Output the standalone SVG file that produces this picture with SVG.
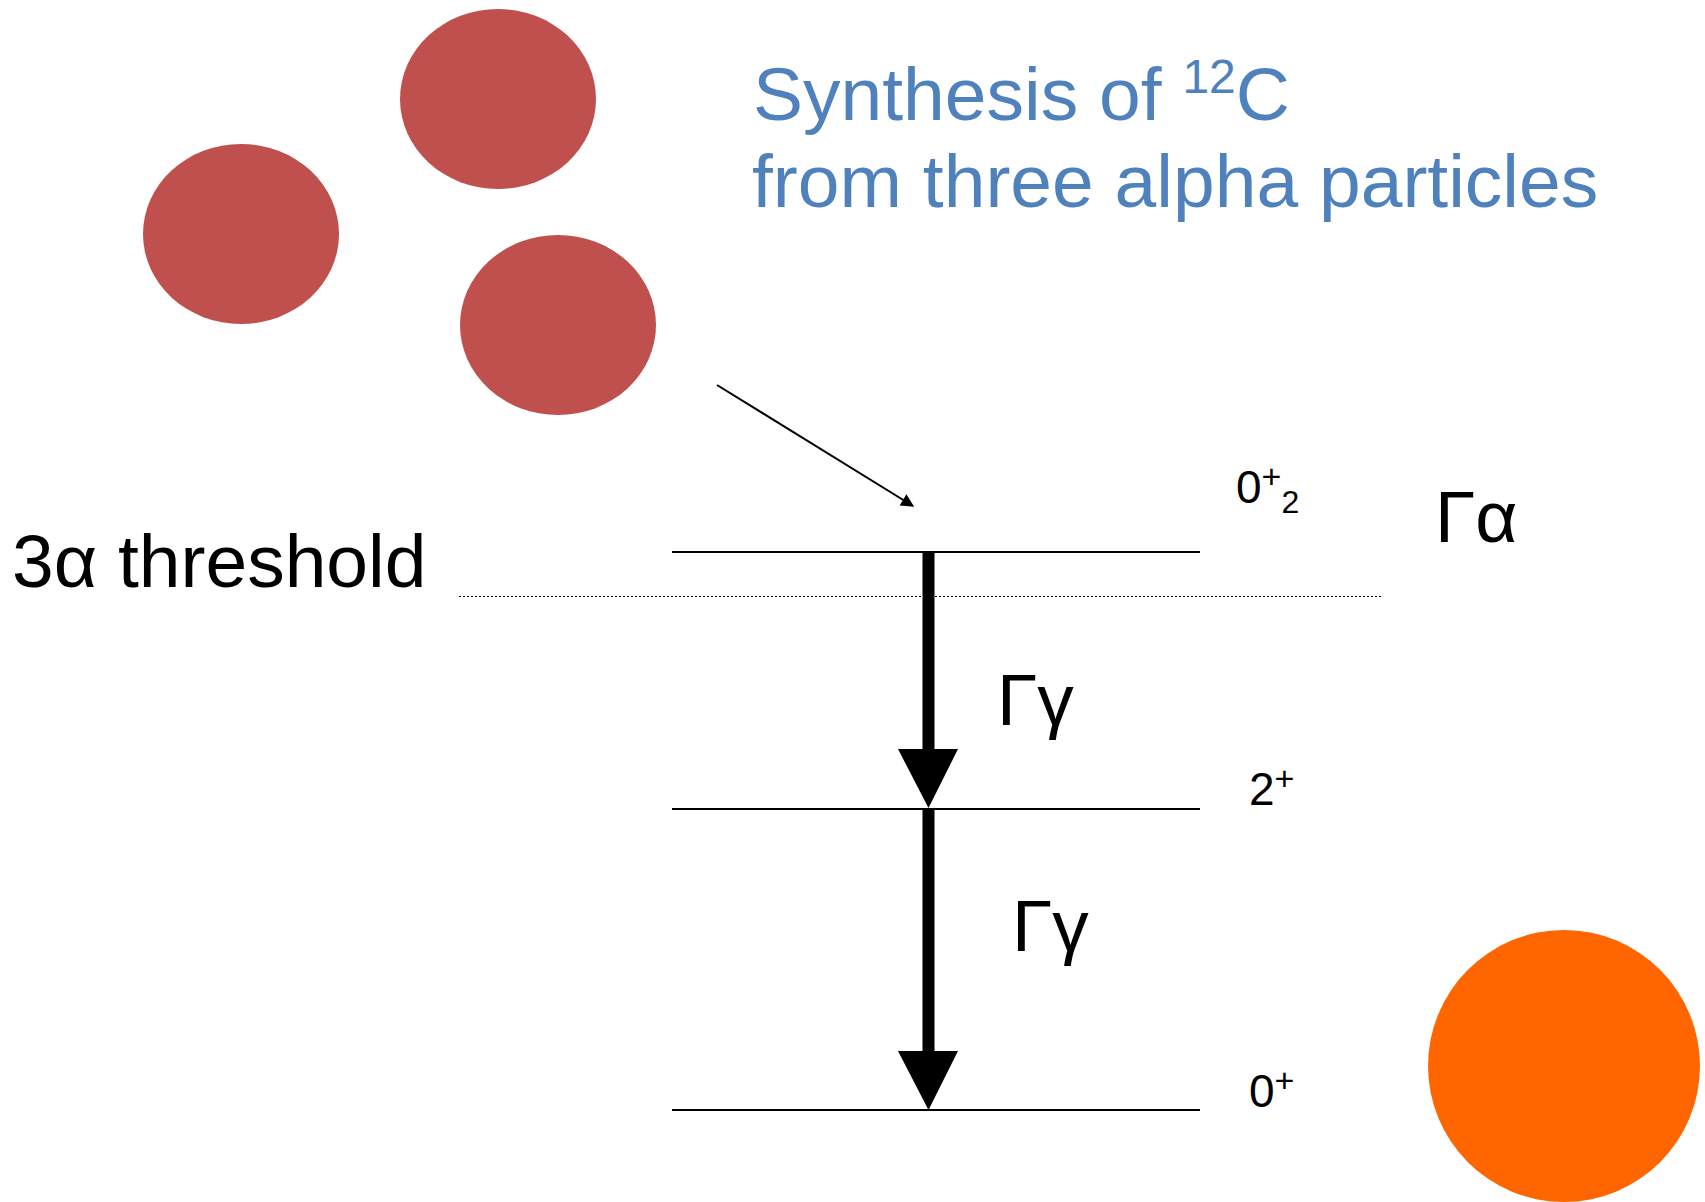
<svg xmlns="http://www.w3.org/2000/svg" width="1705" height="1202" viewBox="0 0 1705 1202">
<defs>
<style>
.t{font-family:"Liberation Sans",Arial,sans-serif;fill:#000}
.title{font-family:"Liberation Sans",Arial,sans-serif;fill:#4F81BD;font-size:75px}
.alpha{fill:#C0504D}
.lvl{stroke:#000;stroke-width:2;fill:none}
.thick{stroke:#000;stroke-width:12;fill:none}
</style>
<marker id="thin" viewBox="0 0 10 10" refX="9" refY="5" markerWidth="15" markerHeight="13" orient="auto" markerUnits="userSpaceOnUse">
<path d="M0,0 L10,5 L0,10 z" fill="#000"/>
</marker>
</defs>
<rect width="1705" height="1202" fill="#fff"/>
<g id="alpha1"><ellipse class="alpha" cx="498" cy="99" rx="98" ry="90"/></g>
<g id="alpha2"><ellipse class="alpha" cx="241" cy="234" rx="98" ry="90"/></g>
<g id="alpha3"><ellipse class="alpha" cx="558" cy="325" rx="98" ry="90"/></g>
<g id="carbon"><circle cx="1564" cy="1066" r="136" fill="#FF6600"/></g>
<g id="title">
<text class="title" x="753" y="120">Synthesis of <tspan font-size="48" dy="-27">12</tspan><tspan dy="27">C</tspan></text>
<text class="title" x="752" y="207">from three alpha particles</text>
</g>
<g id="threshold">
<text class="t" x="12" y="587" font-size="75">3α threshold</text>
<line x1="459" y1="596.5" x2="1383" y2="596.5" stroke="#000" stroke-width="1" stroke-dasharray="2,2"/>
</g>
<g id="level-0plus2">
<line class="lvl" x1="672" y1="552" x2="1200" y2="552"/>
<text class="t" x="1236" y="503" font-size="46">0<tspan font-size="34" dy="-15">+</tspan><tspan font-size="32" dy="25">2</tspan></text>
<text class="t" x="1435" y="542" font-size="73">Γα</text>
</g>
<g id="level-2plus">
<line class="lvl" x1="672" y1="809" x2="1200" y2="809"/>
<text class="t" x="1249" y="805" font-size="46">2<tspan font-size="34" dy="-15">+</tspan></text>
</g>
<g id="level-0plus">
<line class="lvl" x1="672" y1="1110" x2="1200" y2="1110"/>
<text class="t" x="1249" y="1107" font-size="46">0<tspan font-size="34" dy="-15">+</tspan></text>
</g>
<g id="connectors">
<line x1="717" y1="385" x2="913" y2="506" stroke="#000" stroke-width="2" marker-end="url(#thin)"/>
<line class="thick" x1="928.5" y1="552" x2="928.5" y2="752"/>
<path d="M898,749 L958,749 L928.5,808 z" fill="#000"/>
<line class="thick" x1="928.5" y1="809" x2="928.5" y2="1054"/>
<path d="M898,1051 L958,1051 L928.5,1110 z" fill="#000"/>
</g>
<g id="labels">
<text class="t" x="997" y="725" font-size="73">Γγ</text>
<text class="t" x="1012" y="951" font-size="73">Γγ</text>
</g>
</svg>
